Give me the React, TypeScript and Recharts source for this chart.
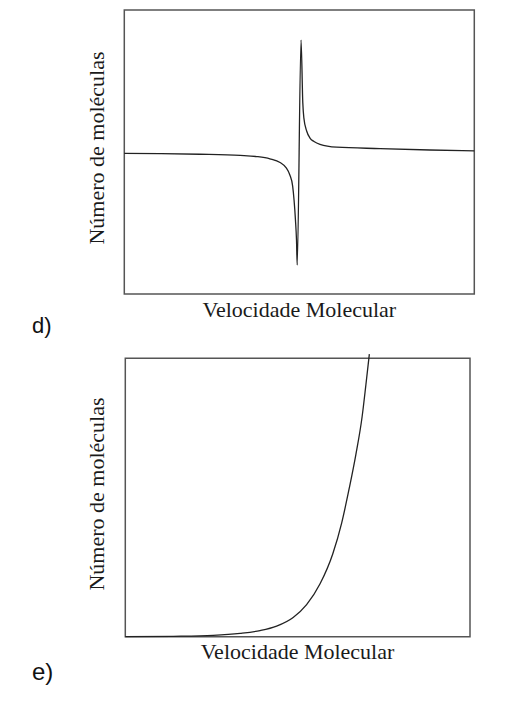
import React from "react";
import { LineChart, Line, XAxis, YAxis, ReferenceArea } from "recharts";

// chart d) – velocity (0-100) vs. number of molecules (0-100)
const dVelocity = [0, 10.2, 21.6, 33.1, 37.8, 41.6, 44.5, 46.2, 47.3, 48.1, 48.5, 48.9, 49.2, 49.4, 50.5, 51.0, 51.3, 52.1, 53.1, 54.2, 55.9, 60.7, 73.1, 87.3, 100];
const dCount = [49.5, 49.4, 49.2, 48.8, 48.4, 47.6, 46.3, 44.5, 41.9, 38.0, 33.1, 26.1, 19.0, 10.2, 89.4, 67.3, 62.0, 57.4, 54.8, 53.7, 52.7, 51.7, 51.2, 50.7, 50.4];

// chart e) – curve runs a little past the top of the frame
const eVelocity = [0, 13.9, 25.5, 33.3, 39.1, 43.9, 48.7, 52.6, 56.5, 60.2, 62.8, 65.0, 66.9, 68.7, 69.8, 70.8];
const eCount = [0, 0.15, 0.5, 1.2, 2.2, 3.8, 6.9, 11.5, 19.0, 29.8, 41.0, 53.5, 65.5, 79.0, 90.5, 101.5];

const xLabel = "Velocidade Molecular";
const yLabel = "Número de moléculas";

const dData = dVelocity.map((v, i) => ({ v, n: dCount[i] }));
const eData = eVelocity.map((v, i) => ({ v, n: eCount[i] }));

const serif = "'Liberation Serif', 'Times New Roman', serif";
const sans = "'Liberation Sans', Arial, sans-serif";

function Labels({ xCenter, xBase, yCenter, tag, tagBase, tagSize }: any) {
  return (
    <g>
      <text x={xCenter} y={xBase} textAnchor="middle" fontFamily={serif} fontSize={22} fill="#1a1a1a">
        {xLabel}
      </text>
      <text
        x={104}
        y={yCenter}
        transform={`rotate(-90, 104, ${yCenter})`}
        textAnchor="middle"
        fontFamily={serif}
        fontSize={22}
        fill="#1a1a1a"
      >
        {yLabel}
      </text>
      <text x={32} y={tagBase} fontFamily={sans} fontSize={tagSize} fill="#111">
        {tag}
      </text>
    </g>
  );
}

export default function App() {
  return (
    <div style={{ position: "absolute", left: 0, top: 0, width: 516, height: 712, background: "#fff" }}>
      <div style={{ position: "absolute", left: 0, top: 0 }}>
        <LineChart width={516} height={340} data={dData} margin={{ top: 10, right: 41.7, bottom: 46, left: 124.3 }}>
          <XAxis dataKey="v" type="number" domain={[0, 100]} hide />
          <YAxis type="number" domain={[0, 100]} hide />
          <ReferenceArea x1={0} x2={100} y1={0} y2={100} fill="none" stroke="#555" strokeWidth={1.5} />
          <Line type="monotone" dataKey="n" stroke="#222" strokeWidth={1.3} dot={false} isAnimationActive={false} />
          <Labels xCenter={299.3} xBase={316.5} yCenter={148} tag="d)" tagBase={332.5} tagSize={22} />
        </LineChart>
      </div>
      <div style={{ position: "absolute", left: 0, top: 340 }}>
        <LineChart width={516} height={372} data={eData} margin={{ top: 12.7, right: 46, bottom: 75.3, left: 125.3 }}>
          <XAxis dataKey="v" type="number" domain={[0, 100]} hide />
          <YAxis type="number" domain={[0, 102]} hide />
          <ReferenceArea x1={0} x2={100} y1={0} y2={100} fill="none" stroke="#555" strokeWidth={1.5} />
          <Line type="monotone" dataKey="n" stroke="#222" strokeWidth={1.3} dot={false} isAnimationActive={false} />
          <Labels xCenter={297.5} xBase={319} yCenter={154} tag="e)" tagBase={340} tagSize={24} />
        </LineChart>
      </div>
    </div>
  );
}
